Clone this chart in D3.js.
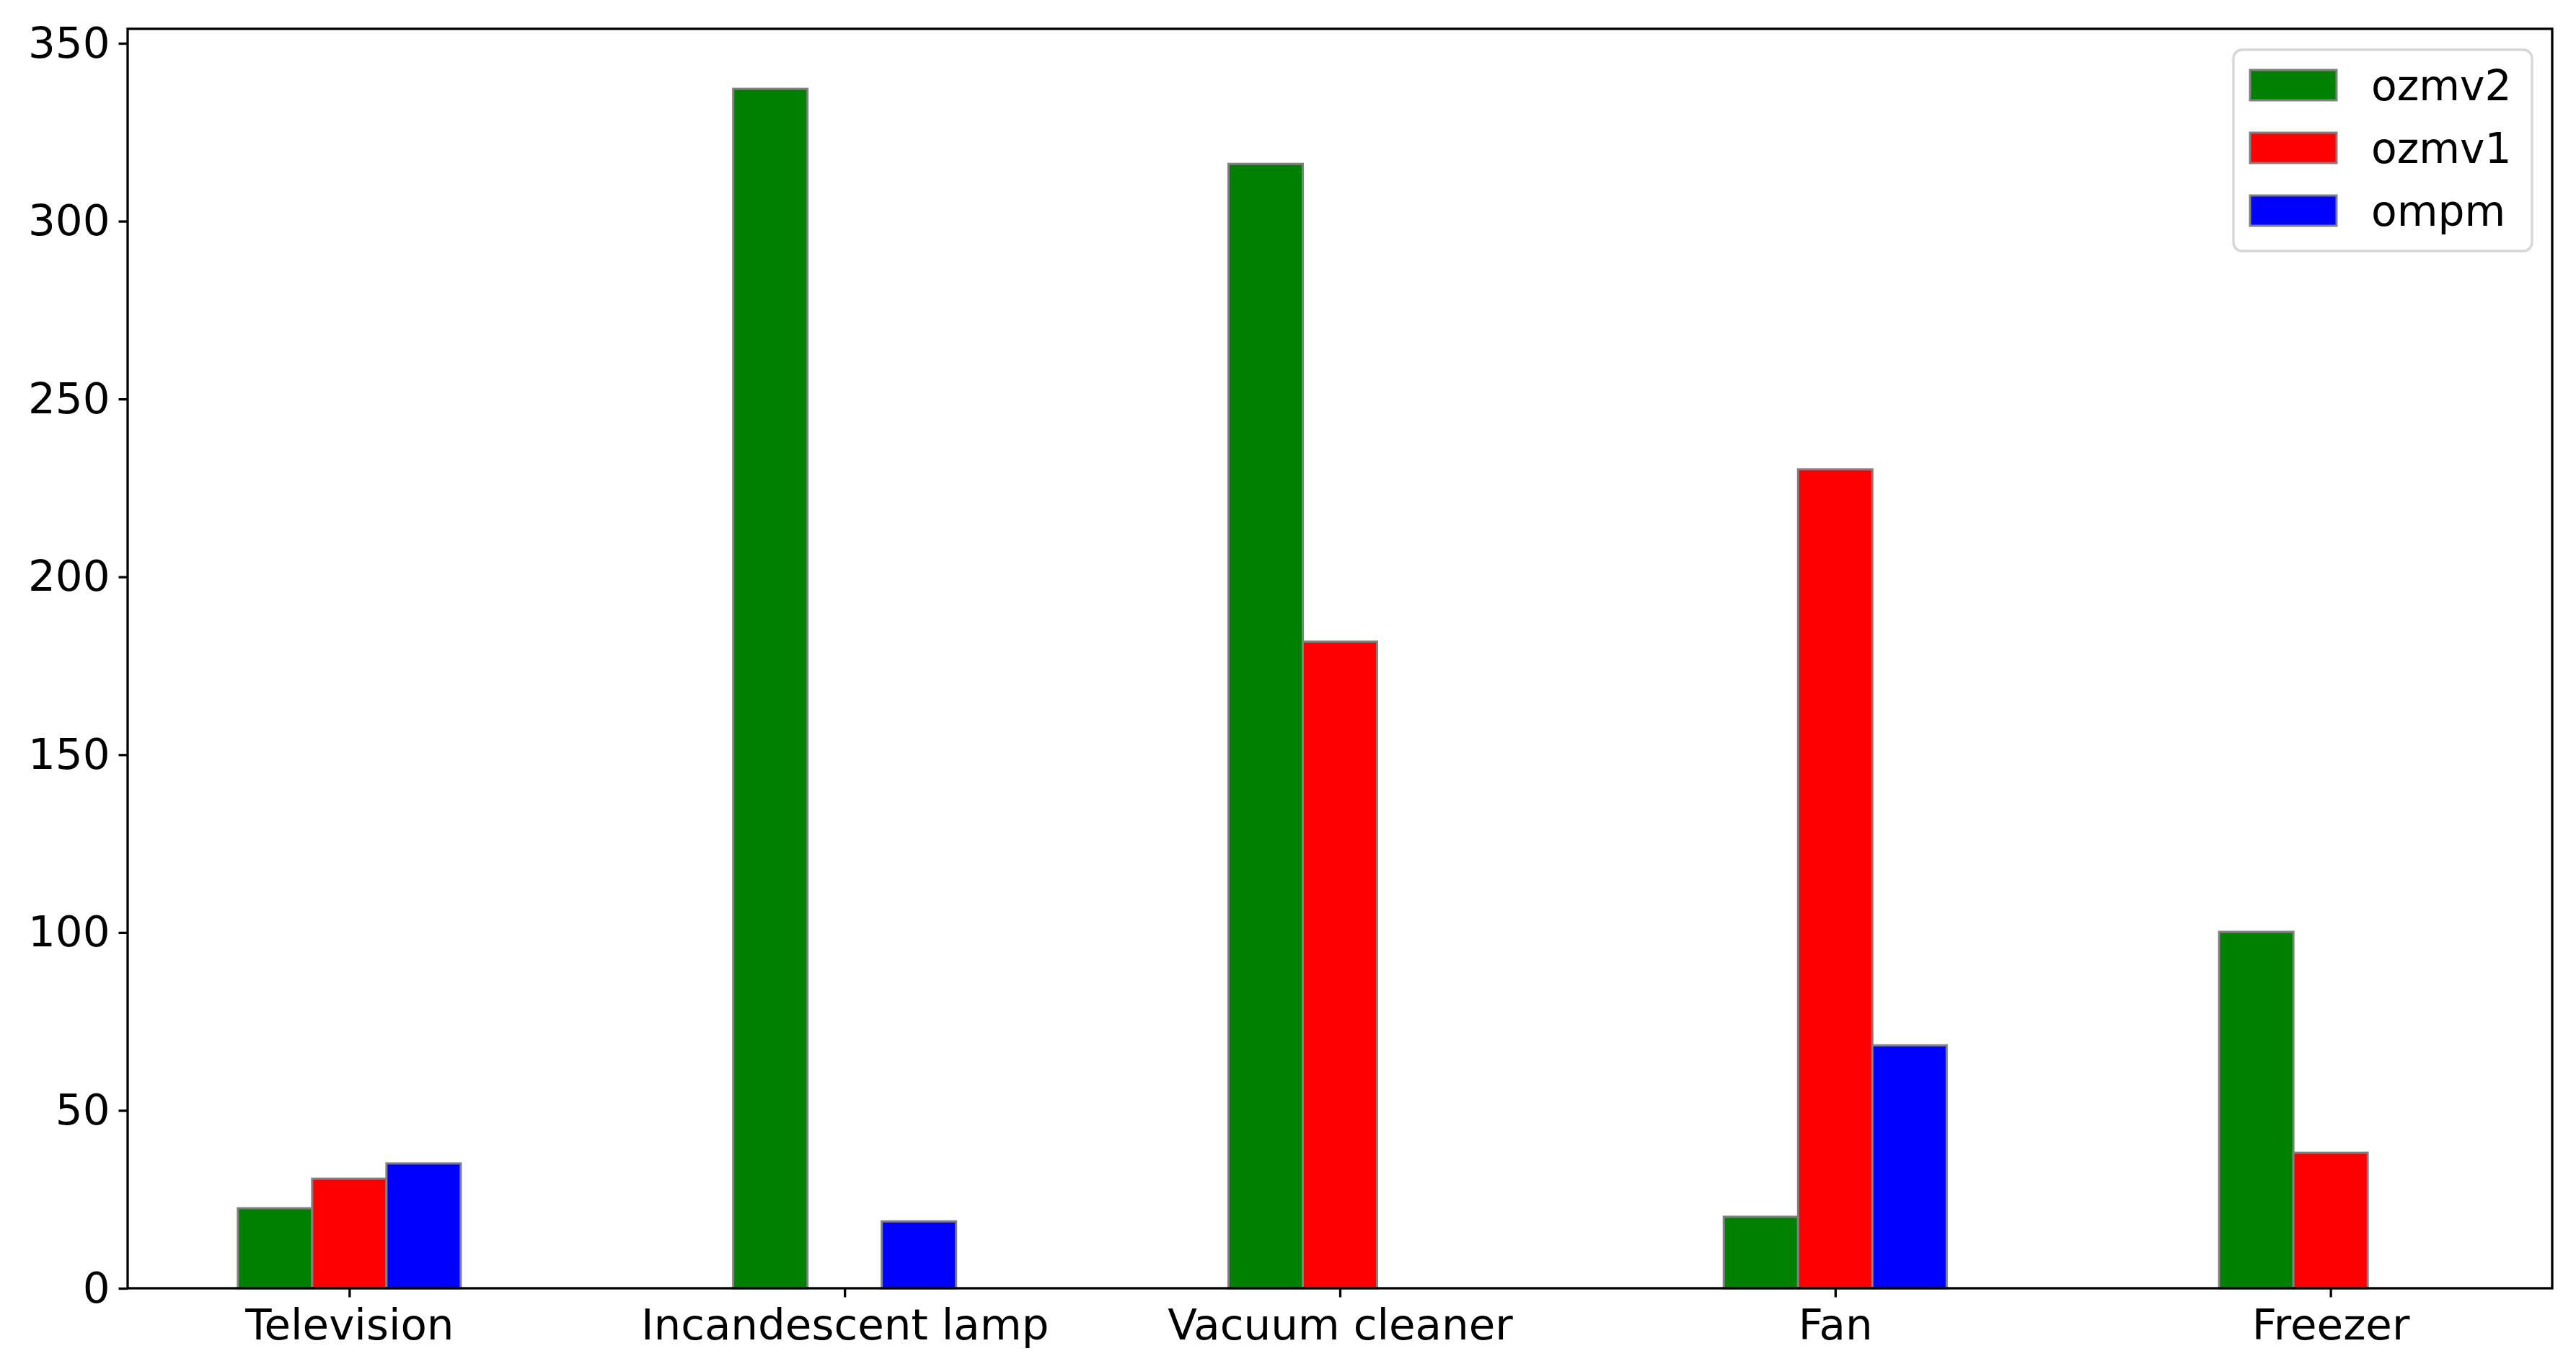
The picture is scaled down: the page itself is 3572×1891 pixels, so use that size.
<!DOCTYPE html>
<html>
<head>
<meta charset="utf-8">
<script src="https://cdn.jsdelivr.net/npm/d3@7"></script>
<style>
html,body{margin:0;padding:0;background:#fff;}
svg{display:block;}
text{font-family:"DejaVu Sans",sans-serif;fill:#000;}
</style>
</head>
<body>
<script>
const categories = ["Television", "Incandescent lamp", "Vacuum cleaner", "Fan", "Freezer"];
const seriesNames = ["ozmv2", "ozmv1", "ompm"];
const seriesColors = ["#008000", "#ff0000", "#0000ff"];
const ozmv2 = [22.5, 337.2, 316.1, 20.1, 100.2];
const ozmv1 = [30.8, 0, 181.8, 230.2, 38.1];
const ompm = [35.1, 18.8, 0, 68.3, 0];
const yTicks = [0, 50, 100, 150, 200, 250, 300, 350];

(function () {
const seriesValues = [ozmv2, ozmv1, ompm];
const W = 3572, H = 1891;
const pLeft = 177, pRight = 3539, pTop = 40, pBottom = 1786;
const barW = 0.15;
const fs = 59.5;
const tickLen = 12.5, pad = 12;

const svg = d3.select("body").append("svg").attr("width", W).attr("height", H);

const xmin = -barW * 1.5, xmax = categories.length - 1 + barW * 1.5;
const xm = (xmax - xmin) * 0.05;
const x = d3.scaleLinear().domain([xmin - xm, xmax + xm]).range([pLeft, pRight]);
const ymaxData = d3.max(seriesValues.flat());
const y = d3.scaleLinear().domain([0, ymaxData * 1.05]).range([pBottom, pTop]);

// bars
seriesValues.forEach((vals, si) => {
  svg.append("g").selectAll("rect").data(vals).join("rect")
    .attr("x", (d, i) => x(i + (si - 1) * barW - barW / 2))
    .attr("width", x(barW) - x(0))
    .attr("y", d => y(d))
    .attr("height", d => y(0) - y(d))
    .attr("fill", seriesColors[si])
    .attr("stroke", "#808080")
    .attr("stroke-width", 3);
});

// frame
svg.append("rect").attr("x", pLeft).attr("y", pTop)
  .attr("width", pRight - pLeft).attr("height", pBottom - pTop)
  .attr("fill", "none").attr("stroke", "#000").attr("stroke-width", 3.3);

// y axis
const yAxis = d3.axisLeft(y).tickValues(yTicks).tickSize(tickLen).tickPadding(pad).tickFormat(d3.format("d"));
const gy = svg.append("g").attr("transform", `translate(${pLeft},0)`).call(yAxis);
gy.select(".domain").remove();
gy.selectAll(".tick line").attr("stroke", "#000").attr("stroke-width", 3.3);
gy.selectAll(".tick text").attr("font-size", fs).attr("font-family", "DejaVu Sans, sans-serif").attr("fill", "#000");

// x axis
const xAxis = d3.axisBottom(x).tickValues(d3.range(categories.length)).tickSize(tickLen).tickPadding(16)
  .tickFormat(i => categories[i]);
const gx = svg.append("g").attr("transform", `translate(0,${pBottom})`).call(xAxis);
gx.select(".domain").remove();
gx.selectAll(".tick line").attr("stroke", "#000").attr("stroke-width", 3.3);
gx.selectAll(".tick text").attr("font-size", fs).attr("font-family", "DejaVu Sans, sans-serif").attr("fill", "#000");

// legend
const lg = svg.append("g");
lg.append("rect").attr("x", 3097).attr("y", 69).attr("width", 414).attr("height", 279)
  .attr("rx", 12).attr("ry", 12)
  .attr("fill", "#fff").attr("fill-opacity", 0.8)
  .attr("stroke", "#d6d6d6").attr("stroke-width", 3.3);
seriesNames.forEach((name, i) => {
  const yy = 97 + i * 87;
  lg.append("rect").attr("x", 3120).attr("y", yy).attr("width", 120).attr("height", 42)
    .attr("fill", seriesColors[i]).attr("stroke", "#808080").attr("stroke-width", 3);
  lg.append("text").attr("x", 3288).attr("y", yy + 42)
    .attr("font-size", 58.3).text(name);
});
})();
</script>
</body>
</html>
